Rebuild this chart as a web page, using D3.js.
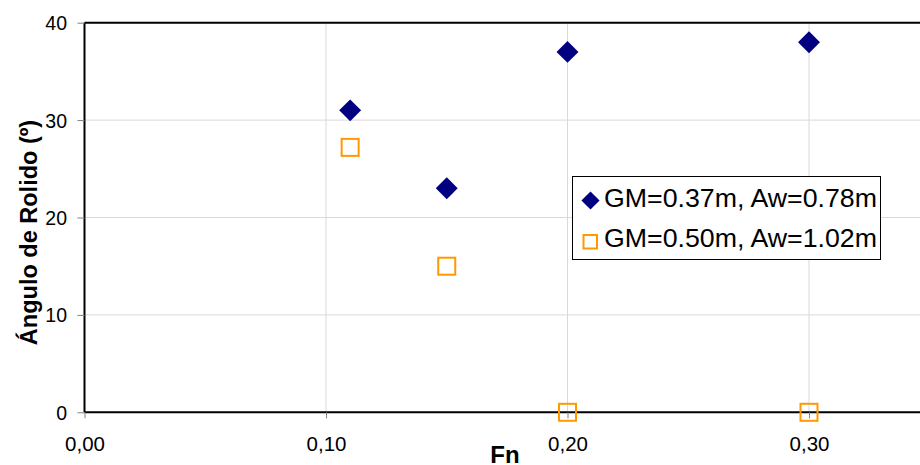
<!DOCTYPE html>
<html>
<head>
<meta charset="utf-8">
<script src="https://cdn.jsdelivr.net/npm/d3@7"></script>
<style>
  body { margin: 0; background: #fff; }
  svg { display: block; font-family: Arial, "Liberation Sans", sans-serif; }
</style>
</head>
<body>
<div id="chart"></div>
<script>
// data
var fnValues = [0.11, 0.15, 0.20, 0.30];
var series1 = [31, 23, 37, 38];   // GM=0.37m, Aw=0.78m
var series2 = [27.2, 15, 0, 0];   // GM=0.50m, Aw=1.02m
var seriesNames = ["GM=0.37m, Aw=0.78m", "GM=0.50m, Aw=1.02m"];
var xTicks = [0, 0.1, 0.2, 0.3];
var yTicks = [0, 10, 20, 30, 40];

function main(){
    var canvasWidth = 920;
    var canvasHeight = 465;
    var font = "Arial, 'Liberation Sans', sans-serif";

    var svg = d3.select("#chart").append("svg")
        .attr("width", canvasWidth)
        .attr("height", canvasHeight);

    var left = 84.5, top = 22.7, bottom = 412.3;
    var xScale = d3.scaleLinear().domain([0, 0.35]).range([left, left + 2415 * 0.35]);
    var yScale = d3.scaleLinear().domain([0, 40]).range([bottom, top]);

    // gridlines
    svg.append("g").selectAll("line")
        .data(xTicks.slice(1))
        .enter().append("line")
        .attr("x1", function(d){ return xScale(d); })
        .attr("x2", function(d){ return xScale(d); })
        .attr("y1", top).attr("y2", bottom)
        .attr("stroke", "#d9d9d9").attr("stroke-width", 1);

    svg.append("g").selectAll("line")
        .data(yTicks.slice(1, -1))
        .enter().append("line")
        .attr("x1", left).attr("x2", canvasWidth)
        .attr("y1", function(d){ return yScale(d); })
        .attr("y2", function(d){ return yScale(d); })
        .attr("stroke", "#d9d9d9").attr("stroke-width", 1);

    // top border
    svg.append("line")
        .attr("x1", left).attr("x2", canvasWidth)
        .attr("y1", top).attr("y2", top)
        .attr("stroke", "#000").attr("stroke-width", 2);

    // X axis
    var xAxis = svg.append("g")
        .attr("transform", "translate(0," + bottom + ")")
        .call(d3.axisBottom(xScale).tickValues(xTicks).tickSize(6)
            .tickFormat(function(d){ return d3.format(".2f")(d).replace(".", ","); }));
    xAxis.select(".domain").attr("stroke", "#000").attr("stroke-width", 2)
        .attr("d", "M" + left + ",0H" + canvasWidth);
    xAxis.selectAll(".tick line").attr("stroke", "#808080");
    xAxis.selectAll(".tick text")
        .attr("y", 38.5).attr("dy", null)
        .attr("font-size", "20.5px").attr("fill", "#000")
        .attr("font-family", font);

    // Y axis
    var yAxis = svg.append("g")
        .attr("transform", "translate(" + left + ",0)")
        .call(d3.axisLeft(yScale).tickValues(yTicks).tickSize(7).tickPadding(10));
    yAxis.select(".domain").attr("stroke", "#000").attr("stroke-width", 2)
        .attr("d", "M0," + top + "V" + bottom);
    yAxis.selectAll(".tick line").attr("stroke", "#808080");
    yAxis.selectAll(".tick text")
        .attr("x", -17.5).attr("dy", "0.36em")
        .attr("font-size", "19.5px").attr("fill", "#000")
        .attr("font-family", font);

    // axis titles
    svg.append("text")
        .attr("x", 505).attr("y", 463)
        .attr("text-anchor", "middle")
        .attr("font-size", "24px").attr("font-weight", "bold")
        .text("Fn");

    svg.append("text")
        .attr("transform", "translate(37,232.5) rotate(-90)")
        .attr("text-anchor", "middle")
        .attr("font-size", "23.5px").attr("font-weight", "bold")
        .text("Ángulo de Rolido (º)");

    // series 2: open orange squares
    svg.append("g").selectAll("rect")
        .data(series2)
        .enter().append("rect")
        .attr("x", function(d, i){ return xScale(fnValues[i]) - 8.5; })
        .attr("y", function(d){ return yScale(d) - 8.5; })
        .attr("width", 17).attr("height", 17)
        .attr("fill", "none").attr("stroke", "#FF9900").attr("stroke-width", 2);

    // series 1: navy diamonds
    svg.append("g").selectAll("path")
        .data(series1)
        .enter().append("path")
        .attr("d", d3.symbol().type(d3.symbolSquare).size(240))
        .attr("transform", function(d, i){
            return "translate(" + xScale(fnValues[i]) + "," + yScale(d) + ") rotate(45)";
        })
        .attr("fill", "#000080");

    // legend
    var lg = svg.append("g");
    lg.append("rect")
        .attr("x", 572.5).attr("y", 176.5)
        .attr("width", 308).attr("height", 83)
        .attr("fill", "#fff").attr("stroke", "#000").attr("stroke-width", 1);
    lg.append("path")
        .attr("d", d3.symbol().type(d3.symbolSquare).size(165))
        .attr("transform", "translate(590.5,200.5) rotate(45)")
        .attr("fill", "#000080");
    lg.append("rect")
        .attr("x", 583.5).attr("y", 235).attr("width", 13.5).attr("height", 13.5)
        .attr("fill", "none").attr("stroke", "#FF9900").attr("stroke-width", 2);
    lg.selectAll("text")
        .data(seriesNames)
        .enter().append("text")
        .attr("x", 604)
        .attr("y", function(d, i){ return 206.7 + i * 40.6; })
        .attr("font-size", "25px")
        .attr("textLength", 273)
        .attr("lengthAdjust", "spacingAndGlyphs")
        .text(function(d){ return d; });
}
main();
</script>
</body>
</html>
